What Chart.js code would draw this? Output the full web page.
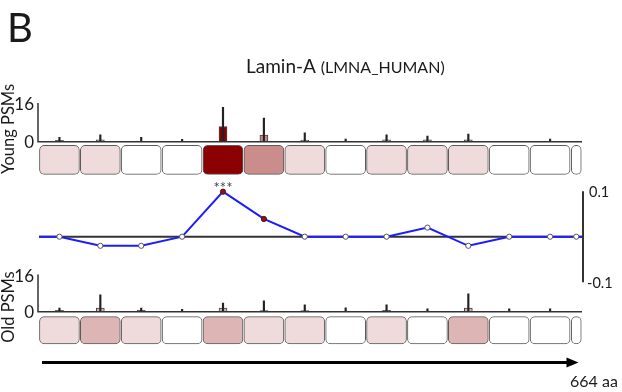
<!DOCTYPE html>
<html>
<head>
<meta charset="utf-8">
<script src="https://cdn.jsdelivr.net/npm/chart.js@4.4.1/dist/chart.umd.min.js"></script>
<style>
  body { margin: 0; background: #fff; }
  #wrap { position: relative; width: 622px; height: 392px; overflow: hidden; }
  canvas { position: absolute; left: 0; top: 0; }
</style>
</head>
<body>
<div id="wrap">
  <canvas id="young" width="622" height="392"></canvas>
  <canvas id="diff" width="622" height="392"></canvas>
  <canvas id="old" width="622" height="392"></canvas>
</div>
<script>
const proteinName = 'Lamin-A';
const proteinId = '(LMNA_HUMAN)';
const proteinLength = 664;

// bin centres in residues (50 aa bins, last one is 650-664)
const binCenters = [25, 75, 125, 175, 225, 275, 325, 375, 425, 475, 525, 575, 625, 657];

const youngMean  = [0.6, 0.8, 0, 0, 6.3, 2.7, 0.7, 0, 0.8, 0.8, 0.8, 0, 0, 0];
const youngUpper = [1.8, 2.8, 1.8, 1.0, 14.2, 9.8, 3.7, 1.1, 2.8, 2.3, 3.2, 0, 1.1, 0];
const youngShade = [0.14, 0.14, 0, 0, 1, 0.45, 0.14, 0, 0.14, 0.14, 0.14, 0, 0, 0];

const oldMean  = [0.6, 1.6, 0.6, 0, 1.6, 0.5, 0.5, 0, 0.6, 0, 1.6, 0, 0, 0];
const oldUpper = [1.5, 7.3, 1.5, 1.0, 3.7, 4.7, 2.9, 1.7, 2.9, 1.2, 7.7, 1.2, 1.2, 0];
const oldShade = [0.14, 0.29, 0.14, 0, 0.29, 0.14, 0.14, 0, 0.14, 0, 0.29, 0, 0, 0];

const diffValues = [0, -0.02, -0.02, 0, 0.099, 0.039, 0, 0, 0, 0.02, -0.02, 0, 0, 0];
const diffSignificant = [false, false, false, false, true, true, false, false, false, false, false, false, false, false];
const diffStars = ['', '', '', '', '***', '', '', '', '', '', '', '', '', ''];

const countTicks = [0, 16];
const diffTicks = [-0.1, 0.1];

const FONT = 'Lato, "Open Sans", sans-serif';
const INK = '#1a1a1a';
const AXIS = '#333';

function shade(t) {
  const r = Math.round(255 - 116 * t);
  const g = Math.round(255 - 255 * t);
  return `rgb(${r},${g},${g})`;
}

function rotatedLabel(ctx, text, x, y) {
  ctx.save();
  ctx.translate(x, y);
  ctx.rotate(-Math.PI / 2);
  ctx.textAlign = 'center';
  ctx.textBaseline = 'alphabetic';
  ctx.fillText(text, 0, 0);
  ctx.restore();
}

function countAxisPlugin(label, labelY, extra) {
  return {
    id: 'countAxis',
    afterDatasetsDraw(chart) {
      const { ctx, chartArea, scales: { y } } = chart;
      const x0 = chartArea.left - 1;
      const yTop = y.getPixelForValue(countTicks[1]);
      const yZero = y.getPixelForValue(countTicks[0]);
      ctx.save();
      ctx.strokeStyle = AXIS;
      ctx.lineWidth = 1.5;
      ctx.beginPath();
      ctx.moveTo(x0, yTop);
      ctx.lineTo(x0, yZero);
      ctx.lineTo(chartArea.right, yZero);
      ctx.stroke();

      ctx.fillStyle = INK;
      ctx.font = `17px ${FONT}`;
      ctx.textAlign = 'right';
      ctx.textBaseline = 'middle';
      ctx.fillText(String(countTicks[1]), x0 - 4, yTop + 2);
      ctx.fillText(String(countTicks[0]), x0 - 4, yZero + 1);

      ctx.font = `16.5px ${FONT}`;
      rotatedLabel(ctx, label, 13.5, labelY);
      if (extra) extra(chart);
      ctx.restore();
    }
  };
}

function psmChart(id, label, labelY, mean, upper, shades, box, yMin, top, bottom, extra) {
  const colors = shades.map(shade);
  const last = binCenters.length - 1;
  const boxData = binCenters.map(x => ({ x, y: box }));
  const boxStyle = {
    borderColor: '#5a5a5a', borderWidth: 1, borderRadius: 5, borderSkipped: false, order: 3
  };
  return new Chart(document.getElementById(id), {
    type: 'bar',
    data: {
      datasets: [
        {
          data: binCenters.map((x, i) => ({ x, y: [0, upper[i]] })),
          backgroundColor: '#222', barThickness: 1.5, order: 1
        },
        {
          data: binCenters.map((x, i) => ({ x, y: mean[i] })),
          backgroundColor: colors, borderColor: '#444', borderWidth: 1,
          barThickness: 8, order: 2
        },
        Object.assign({ data: boxData.slice(0, last), backgroundColor: colors.slice(0, last), barThickness: 40 }, boxStyle),
        Object.assign({ data: boxData.slice(last), backgroundColor: colors.slice(last), barThickness: 10 }, boxStyle)
      ]
    },
    options: {
      responsive: false,
      animation: false,
      devicePixelRatio: 1,
      layout: { padding: { left: 39, right: 40, top: top, bottom: 392 - bottom } },
      datasets: { bar: { grouped: false } },
      scales: {
        x: { type: 'linear', min: 0, max: proteinLength, offset: false, display: false },
        y: { min: yMin, max: countTicks[1], display: false }
      },
      plugins: { legend: { display: false }, tooltip: { enabled: false } }
    },
    plugins: [countAxisPlugin(label, labelY, extra)]
  });
}

// young panel + heading text
psmChart('young', 'Young PSMs', 129, youngMean, youngUpper, youngShade, [-13.5, -1.5], -14, 103, 175.6, chart => {
  const { ctx } = chart;
  ctx.fillStyle = INK;
  ctx.textAlign = 'left';
  ctx.textBaseline = 'alphabetic';
  ctx.font = `40px ${FONT}`;
  ctx.fillText('B', 7, 42);
  ctx.font = `19px ${FONT}`;
  ctx.fillText(proteinName + ' ', 246, 73);
  const w = ctx.measureText(proteinName + ' ').width;
  ctx.font = `16px ${FONT}`;
  ctx.fillText(proteinId, 246 + w, 73);
});

// old panel + length arrow
psmChart('old', 'Old PSMs', 307, oldMean, oldUpper, oldShade, [-13.9, -2.1], -14.3, 274.5, 344.9, chart => {
  const { ctx, scales: { x } } = chart;
  const xa = x.getPixelForValue(0) + 3;
  const xb = x.getPixelForValue(proteinLength) - 3.5;
  const yArrow = 362.5;
  ctx.strokeStyle = '#000';
  ctx.lineWidth = 3;
  ctx.beginPath();
  ctx.moveTo(xa, yArrow);
  ctx.lineTo(xb - 10, yArrow);
  ctx.stroke();
  ctx.fillStyle = '#000';
  ctx.beginPath();
  ctx.moveTo(xb, yArrow);
  ctx.lineTo(xb - 12, yArrow - 5);
  ctx.lineTo(xb - 12, yArrow + 5);
  ctx.closePath();
  ctx.fill();
  ctx.fillStyle = INK;
  ctx.font = `16px ${FONT}`;
  ctx.textAlign = 'left';
  ctx.textBaseline = 'alphabetic';
  ctx.fillText(proteinLength + ' aa', 570, 387);
});

// difference line
const n = binCenters.length;
const diffPoints = [{ x: 0, y: 0 }]
  .concat(binCenters.map((x, i) => ({ x, y: diffValues[i] })))
  .concat([{ x: proteinLength, y: 0 }]);
const isSig = ctx => diffSignificant[ctx.dataIndex - 1] === true;

new Chart(document.getElementById('diff'), {
  type: 'line',
  data: {
    datasets: [
      {
        data: [{ x: 0, y: 0 }, { x: proteinLength, y: 0 }],
        borderColor: '#333', borderWidth: 2, pointRadius: 0, order: 2
      },
      {
        data: diffPoints,
        borderColor: '#1c1cff', borderWidth: 2, tension: 0, clip: false,
        pointRadius: ctx => (ctx.dataIndex === 0 || ctx.dataIndex === n + 1) ? 0 : 2.6,
        pointBackgroundColor: ctx => isSig(ctx) ? '#8f1414' : '#fff',
        pointBorderColor: ctx => isSig(ctx) ? '#5a0a0a' : '#555',
        pointBorderWidth: 1,
        order: 1
      }
    ]
  },
  options: {
    responsive: false,
    animation: false,
    devicePixelRatio: 1,
    layout: { padding: { left: 39, right: 40, top: 191.2, bottom: 392 - 282.2 } },
    scales: {
      x: { type: 'linear', min: 0, max: proteinLength, display: false },
      y: { min: diffTicks[0], max: diffTicks[1], display: false }
    },
    plugins: { legend: { display: false }, tooltip: { enabled: false } }
  },
  plugins: [{
    id: 'diffAxis',
    afterDatasetsDraw(chart) {
      const { ctx, chartArea, scales: { y } } = chart;
      const xr = chartArea.right + 1;
      const yHi = y.getPixelForValue(diffTicks[1]);
      const yLo = y.getPixelForValue(diffTicks[0]);
      ctx.save();
      ctx.strokeStyle = AXIS;
      ctx.lineWidth = 2;
      ctx.beginPath();
      ctx.moveTo(xr, yHi);
      ctx.lineTo(xr, yLo);
      ctx.stroke();
      ctx.fillStyle = INK;
      ctx.font = `14.5px ${FONT}`;
      ctx.textAlign = 'left';
      ctx.textBaseline = 'middle';
      ctx.fillText(String(diffTicks[1]), xr + 6, yHi + 1);
      ctx.fillText(String(diffTicks[0]), xr + 4, yLo + 1);

      const pts = chart.getDatasetMeta(1).data;
      ctx.fillStyle = '#444';
      ctx.font = `15px ${FONT}`;
      ctx.textAlign = 'center';
      ctx.textBaseline = 'alphabetic';
      diffStars.forEach((s, i) => {
        if (!s) return;
        const p = pts[i + 1];
        ctx.fillText(s, p.x, p.y + 1);
      });
      ctx.restore();
    }
  }]
});
</script>
</body>
</html>
